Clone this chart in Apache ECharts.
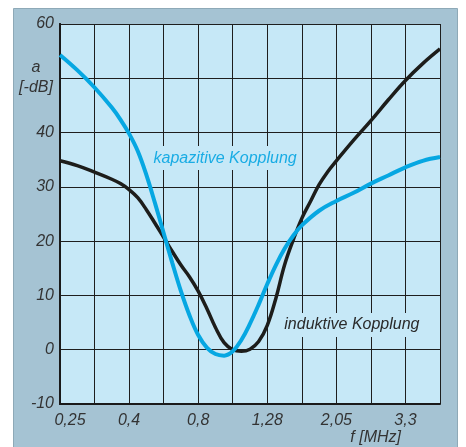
<!DOCTYPE html>
<html>
<head>
<meta charset="utf-8">
<script src="https://cdn.jsdelivr.net/npm/echarts@6/dist/echarts.min.js"></script>
<style>
  html, body { margin: 0; padding: 0; background: #fff; }
  #main { width: 466px; height: 447px; }
</style>
</head>
<body>
<div id="main"></div>
<script>
// x positions are grid steps (11 steps), frequency labels every 2nd step
const xTickLabels = ["0,25", "", "0,4", "", "0,8", "", "1,28", "", "2,05", "", "3,3", ""];
// 50 is left out in the original, the unit label sits there
const yTicks = [-10, 0, 10, 20, 30, 40, 60];

// kapazitive Kopplung (blue) [step, a in -dB]
const kapazitive = [
  [0, 54.3], [0.5, 51.5], [1, 48.3], [1.5, 44.6], [1.75, 42.4], [2, 39.8],
  [2.25, 36.6], [2.5, 32.2], [2.75, 27], [3, 21.5], [3.25, 16], [3.5, 10.8],
  [3.75, 6.3], [4, 2.7], [4.25, 0.4], [4.5, -0.8], [4.75, -1.1], [5, -0.3],
  [5.25, 1.8], [5.5, 4.8], [5.75, 8.3], [6, 12.1], [6.25, 15.6], [6.5, 18.6],
  [6.75, 21], [7, 22.9], [7.5, 25.6], [8, 27.4], [8.5, 28.9], [9, 30.6],
  [9.5, 32.1], [10, 33.6], [10.5, 34.8], [11, 35.5]
];
// induktive Kopplung (black)
const induktive = [
  [0, 34.8], [0.5, 33.9], [1, 32.7], [1.5, 31.4], [1.75, 30.6], [2, 29.5],
  [2.25, 28], [2.5, 25.8], [2.75, 23.3], [3, 20.7], [3.25, 18.1], [3.5, 15.6],
  [3.75, 13.4], [4, 10.8], [4.25, 7.6], [4.5, 4.1], [4.75, 1.3], [5, 0],
  [5.25, -0.3], [5.5, 0.1], [5.75, 1.5], [6, 4.5], [6.25, 9.5], [6.5, 15.6],
  [6.75, 20.2], [7, 24.2], [7.25, 27.3], [7.5, 30.4], [7.75, 32.8], [8, 34.8],
  [8.5, 38.6], [9, 42.2], [9.5, 46], [10, 49.6], [10.5, 52.7], [11, 55.4]
];

const FONT = "Liberation Sans";
const PLOT_BG = "#c6e8f7";
const PANEL = "#a5c3d3";

const myChart = echarts.init(document.getElementById("main"), null, { renderer: "canvas" });

const panel = {
  type: "rect", z: -10, silent: true,
  shape: { x: 13.5, y: 8.5, width: 444, height: 450 },
  style: { fill: PANEL, stroke: "#8ea9b7", lineWidth: 1 }
};

const option = {
  backgroundColor: "#fff",
  animation: false,
  grid: {
    left: 60, top: 24, right: 26, bottom: 43,
    outerBoundsMode: "none",
    containLabel: false,
    show: true, backgroundColor: PLOT_BG, borderWidth: 0
  },
  graphic: [panel],
  xAxis: {
    type: "value", min: 0, max: 11, interval: 1,
    name: "f [MHz]",
    nameLocation: "end",
    nameGap: -39,
    nameTextStyle: {
      fontFamily: FONT, fontStyle: "italic", fontSize: 16, color: "#333",
      align: "right", verticalAlign: "top", padding: [26, 0, 0, 0]
    },
    axisLine: { show: true, onZero: false, lineStyle: { color: "#1a1a1a", width: 2 } },
    axisTick: { show: false },
    splitLine: { show: true, lineStyle: { color: "#1e1e1e", width: 1 } },
    axisLabel: {
      margin: 9,
      fontFamily: FONT, fontStyle: "italic", fontSize: 16, color: "#333",
      formatter: function (v) {
        const s = xTickLabels[Math.round(v)] || "";
        return v === 0 ? "{first|" + s + "}" : s;
      },
      rich: {
        first: {
          fontFamily: FONT, fontStyle: "italic", fontSize: 16, color: "#333",
          padding: [0, 0, 0, 20]
        }
      }
    }
  },
  yAxis: [
    {
      type: "value", min: -10, max: 60, interval: 10,
      name: "a\n[-dB]",
      nameLocation: "end",
      nameGap: -34,
      nameTextStyle: {
        fontFamily: FONT, fontStyle: "italic", fontSize: 16, color: "#333",
        align: "center", verticalAlign: "top", lineHeight: 20,
        padding: [0, 48, 0, 0]
      },
      axisLine: { show: true, onZero: false, lineStyle: { color: "#1a1a1a", width: 2 } },
      axisTick: { show: false },
      splitLine: { show: true, lineStyle: { color: "#1e1e1e", width: 1 } },
      axisLabel: {
        margin: 6,
        fontFamily: FONT, fontStyle: "italic", fontSize: 16, color: "#333",
        formatter: function (v) { return yTicks.indexOf(v) >= 0 ? String(v) : ""; }
      }
    },
    {
      type: "value", min: -10, max: 60, interval: 10, position: "right",
      axisLine: { show: true, lineStyle: { color: "#1a1a1a", width: 2 } },
      axisTick: { show: false }, axisLabel: { show: false }, splitLine: { show: false }
    }
  ],
  series: [
    {
      name: "induktive Kopplung",
      type: "line",
      data: induktive,
      smooth: 0.4,
      showSymbol: false,
      lineStyle: { color: "#1d1d1b", width: 3.5 },
      z: 3
    },
    {
      name: "kapazitive Kopplung",
      type: "line",
      data: kapazitive,
      smooth: 0.4,
      showSymbol: false,
      lineStyle: { color: "#06a7e2", width: 4 },
      z: 4
    }
  ]
};
myChart.setOption(option);

// curve captions, placed in data space
const capK = myChart.convertToPixel({ gridIndex: 0 }, [4.78, 35.3]);
const capI = myChart.convertToPixel({ gridIndex: 0 }, [8.45, 4.55]);
myChart.setOption({
  graphic: [
    panel,
    {
      type: "text", z: 10, x: capK[0], y: capK[1],
      style: {
        text: "kapazitive Kopplung", fill: "#19ace4",
        font: "italic 16px '" + FONT + "'",
        align: "center", verticalAlign: "middle",
        backgroundColor: PLOT_BG, padding: [4, 3]
      }
    },
    {
      type: "text", z: 10, x: capI[0], y: capI[1],
      style: {
        text: "induktive Kopplung", fill: "#2a2a2a",
        font: "italic 16px '" + FONT + "'",
        align: "center", verticalAlign: "middle",
        backgroundColor: PLOT_BG, padding: [4, 3]
      }
    }
  ]
});
</script>
</body>
</html>
